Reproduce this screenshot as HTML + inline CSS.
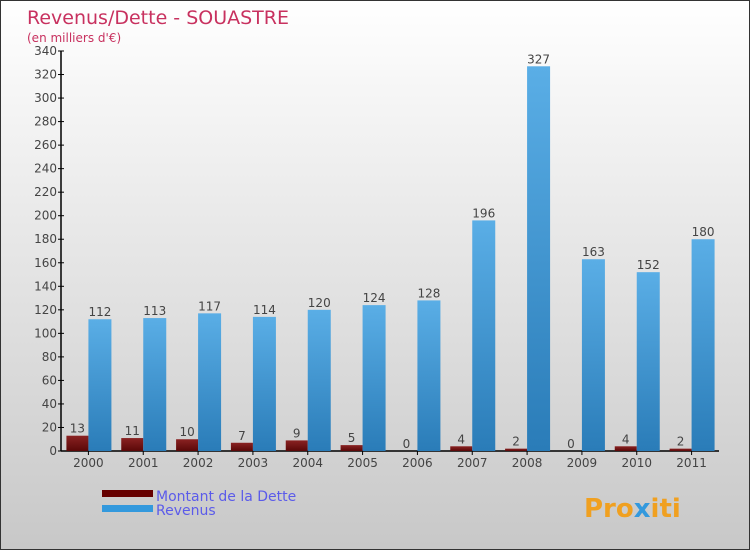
<!DOCTYPE html>
<html><head><meta charset="utf-8"><style>
body{margin:0;}
#wrap{width:750px;height:550px;position:relative;overflow:hidden;box-sizing:border-box;border:1px solid #333;background:linear-gradient(#ffffff,#c8c8c8);font-family:"DejaVu Sans","Liberation Sans",sans-serif;}
svg{position:absolute;left:0;top:0;}
</style></head><body>
<div id="wrap">
<svg id="chart" width="750" height="550">
<defs>
<linearGradient id="gb" x1="0" y1="0" x2="0" y2="1"><stop offset="0" stop-color="#5aaee6"/><stop offset="1" stop-color="#2a7cb8"/></linearGradient>
<linearGradient id="gr" x1="0" y1="0" x2="0" y2="1"><stop offset="0" stop-color="#8a2222"/><stop offset="1" stop-color="#5a0808"/></linearGradient>
</defs>
<text x="26" y="23" font-size="19" fill="#c8315f">Revenus/Dette - SOUASTRE</text>
<text x="26" y="41" font-size="12" fill="#c8315f">(en milliers d'€)</text>
<g id="axes"></g>
<g id="bars"></g>
<g>
<rect x="101" y="489" width="51" height="7" fill="#660000"/>
<text x="155" y="500" font-size="14" fill="#5b5bea">Montant de la Dette</text>
<rect x="101" y="504" width="51" height="7" fill="#3399dd"/>
<text x="155" y="514" font-size="14" fill="#5b5bea">Revenus</text>
</g>
<text x="583" y="516" font-size="26" font-weight="bold" fill="#f0a020">Pro<tspan fill="#3399dd">x</tspan>iti</text>
</svg>
</div>
<script>
const years=["2000","2001","2002","2003","2004","2005","2006","2007","2008","2009","2010","2011"];
const dette=[13,11,10,7,9,5,0,4,2,0,4,2];
const revenus=[112,113,117,114,120,124,128,196,327,163,152,180];
const yTicks=[0,20,40,60,80,100,120,140,160,180,200,220,240,260,280,300,320,340];
const NS="http://www.w3.org/2000/svg";
const x0=60,x1=718,yBase=450,yTop=50,yMax=340;
const gw=(x1-x0)/years.length;
function y(v){return yBase-(v/yMax)*(yBase-yTop);}
function xc(i){return x0+gw*(i+0.5);}
function mk(tag,attrs,parent){const e=document.createElementNS(NS,tag);for(const k in attrs)e.setAttribute(k,attrs[k]);parent.appendChild(e);return e;}
const ax=document.getElementById('axes'),bg=document.getElementById('bars');
let l=mk('line',{x1:x0,y1:yTop,x2:x0,y2:yBase,stroke:'#000','stroke-width':1.5},ax);


l=mk('line',{x1:x0,y1:yBase,x2:x1,y2:yBase,stroke:'#000','stroke-width':1.5},ax);


yTicks.forEach(v=>{
 const t=mk('line',{x1:x0-3,y1:y(v),x2:x0+3,y2:y(v),stroke:'#000'},ax);
 
 
 const tx=mk('text',{x:x0-4,y:y(v)+4,'font-size':12,fill:'#444','text-anchor':'end'},ax);
 tx.textContent=v;
 
 
});
years.forEach((yr,i)=>{
 const c=xc(i);
 const t=mk('line',{x1:c,y1:yBase,x2:c,y2:yBase+4,stroke:'#000'},ax);
 
 
 const tx=mk('text',{x:c,y:yBase+16,'font-size':12,fill:'#444','text-anchor':'middle'},ax);
 tx.textContent=yr;
 
 
 const d=mk('rect',{x:c-22,y:y(dette[i]),width:22,height:yBase-y(dette[i]),fill:'url(#gr)'},bg);
 
 
 const dl=mk('text',{x:c-11,y:y(dette[i])-3,'font-size':12,fill:'#444','text-anchor':'middle'},bg);
 dl.textContent=dette[i];
 
 
 const r=mk('rect',{x:c,y:y(revenus[i]),width:23,height:yBase-y(revenus[i]),fill:'url(#gb)'},bg);
 
 
 const rl=mk('text',{x:c+11.5,y:y(revenus[i])-3,'font-size':12,fill:'#444','text-anchor':'middle'},bg);
 rl.textContent=revenus[i];
 
 
});
</script>
</body></html>
